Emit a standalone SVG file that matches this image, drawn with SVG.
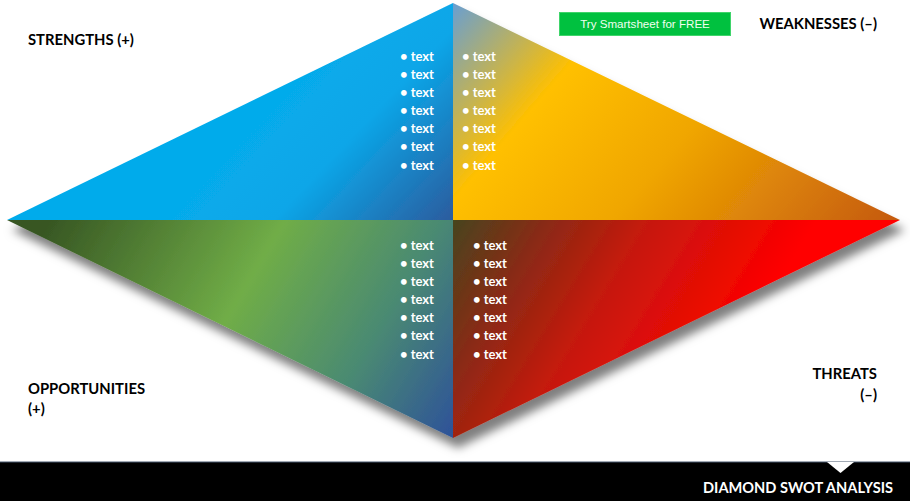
<svg xmlns="http://www.w3.org/2000/svg" width="910" height="501" viewBox="0 0 910 501">
<style>
.lbl{font-family:Lato,"Liberation Sans",sans-serif;font-weight:bold;font-size:14.8px;fill:#000}
.bul{font-family:Lato,"Liberation Sans",sans-serif;font-weight:bold;font-size:13px;fill:#fff}
.btn{font-family:"Liberation Sans",Arial,sans-serif;font-size:11.6px;fill:#f0fff0}
.bar{font-family:Lato,"Liberation Sans",sans-serif;font-weight:bold;font-size:14.6px;fill:#fff}
</style>
<defs>
<filter id="sh" x="-10%" y="-10%" width="120%" height="130%">
<feDropShadow dx="5" dy="10" stdDeviation="5" flood-color="#000" flood-opacity="0.5"/>
</filter>
<linearGradient id="gS" gradientUnits="userSpaceOnUse" x1="300" y1="80" x2="460" y2="230">
<stop offset="0" stop-color="#06abeb"/>
<stop offset="0.35" stop-color="#0aa6e8"/>
<stop offset="1" stop-color="#2f5597"/>
</linearGradient>
<linearGradient id="gW" gradientUnits="userSpaceOnUse" x1="440" y1="20" x2="800" y2="330">
<stop offset="0" stop-color="#6a9fd0"/>
<stop offset="0.27" stop-color="#ffc000"/>
<stop offset="0.55" stop-color="#f0a600"/>
<stop offset="1" stop-color="#c55a11"/>
</linearGradient>
<linearGradient id="gO" gradientUnits="userSpaceOnUse" x1="60" y1="200" x2="450" y2="430">
<stop offset="0" stop-color="#375623"/>
<stop offset="0.45" stop-color="#70ad47"/>
<stop offset="0.75" stop-color="#4a8a72"/>
<stop offset="1" stop-color="#2f5597"/>
</linearGradient>
<linearGradient id="gT" gradientUnits="userSpaceOnUse" x1="440" y1="210" x2="720" y2="380">
<stop offset="0" stop-color="#3a4a20"/>
<stop offset="0.3" stop-color="#8a2a14"/>
<stop offset="0.55" stop-color="#c41a0c"/>
<stop offset="1" stop-color="#ff0000"/>
</linearGradient>
</defs>
<rect width="910" height="501" fill="#fff"/>
<g id="diamond" filter="url(#sh)">
<g id="strengths">
<polygon points="7,220 453,3 453,220" fill="url(#gS)"/>
</g>
<g id="weaknesses">
<polygon points="453,3 900,220 453,220" fill="url(#gW)"/>
</g>
<g id="opportunities">
<polygon points="7,220 453,220 453,438" fill="url(#gO)"/>
</g>
<g id="threats">
<polygon points="453,220 900,220 453,438" fill="url(#gT)"/>
</g>
</g>
<g id="connectors"></g>
<g id="strengths-text" class="bul">
<text x="400" y="61">• text</text>
<text x="400" y="79">• text</text>
<text x="400" y="97">• text</text>
<text x="400" y="115">• text</text>
<text x="400" y="133">• text</text>
<text x="400" y="151">• text</text>
<text x="400" y="170">• text</text>
</g>
<g id="weaknesses-text" class="bul">
<text x="462" y="61">• text</text>
<text x="462" y="79">• text</text>
<text x="462" y="97">• text</text>
<text x="462" y="115">• text</text>
<text x="462" y="133">• text</text>
<text x="462" y="151">• text</text>
<text x="462" y="170">• text</text>
</g>
<g id="opportunities-text" class="bul">
<text x="400" y="250">• text</text>
<text x="400" y="268">• text</text>
<text x="400" y="286">• text</text>
<text x="400" y="304">• text</text>
<text x="400" y="322">• text</text>
<text x="400" y="340">• text</text>
<text x="400" y="359">• text</text>
</g>
<g id="threats-text" class="bul">
<text x="473" y="250">• text</text>
<text x="473" y="268">• text</text>
<text x="473" y="286">• text</text>
<text x="473" y="304">• text</text>
<text x="473" y="322">• text</text>
<text x="473" y="340">• text</text>
<text x="473" y="359">• text</text>
</g>
<g id="labels" class="lbl">
<text x="28" y="45">STRENGTHS (+)</text>
<text x="877" y="29" text-anchor="end">WEAKNESSES (–)</text>
<text x="28" y="394">OPPORTUNITIES</text>
<text x="28" y="414">(+)</text>
<text x="877" y="379" text-anchor="end">THREATS</text>
<text x="877" y="400" text-anchor="end">(–)</text>
</g>
<g id="button">
<rect x="559.5" y="12.5" width="171" height="23" fill="#00c13f" stroke="#3fd46a" stroke-width="1"/>
<text class="btn" x="645" y="28" text-anchor="middle">Try Smartsheet for FREE</text>
</g>
<g id="footer">
<rect x="0" y="462" width="910" height="39" fill="#000"/>
<line x1="0" y1="462" x2="910" y2="462" stroke="#44546a" stroke-width="1"/>
<polygon points="827,462 854,462 840.5,473" fill="#fff"/>
<text class="bar" x="893" y="493" text-anchor="end">DIAMOND SWOT ANALYSIS</text>
</g>
</svg>
